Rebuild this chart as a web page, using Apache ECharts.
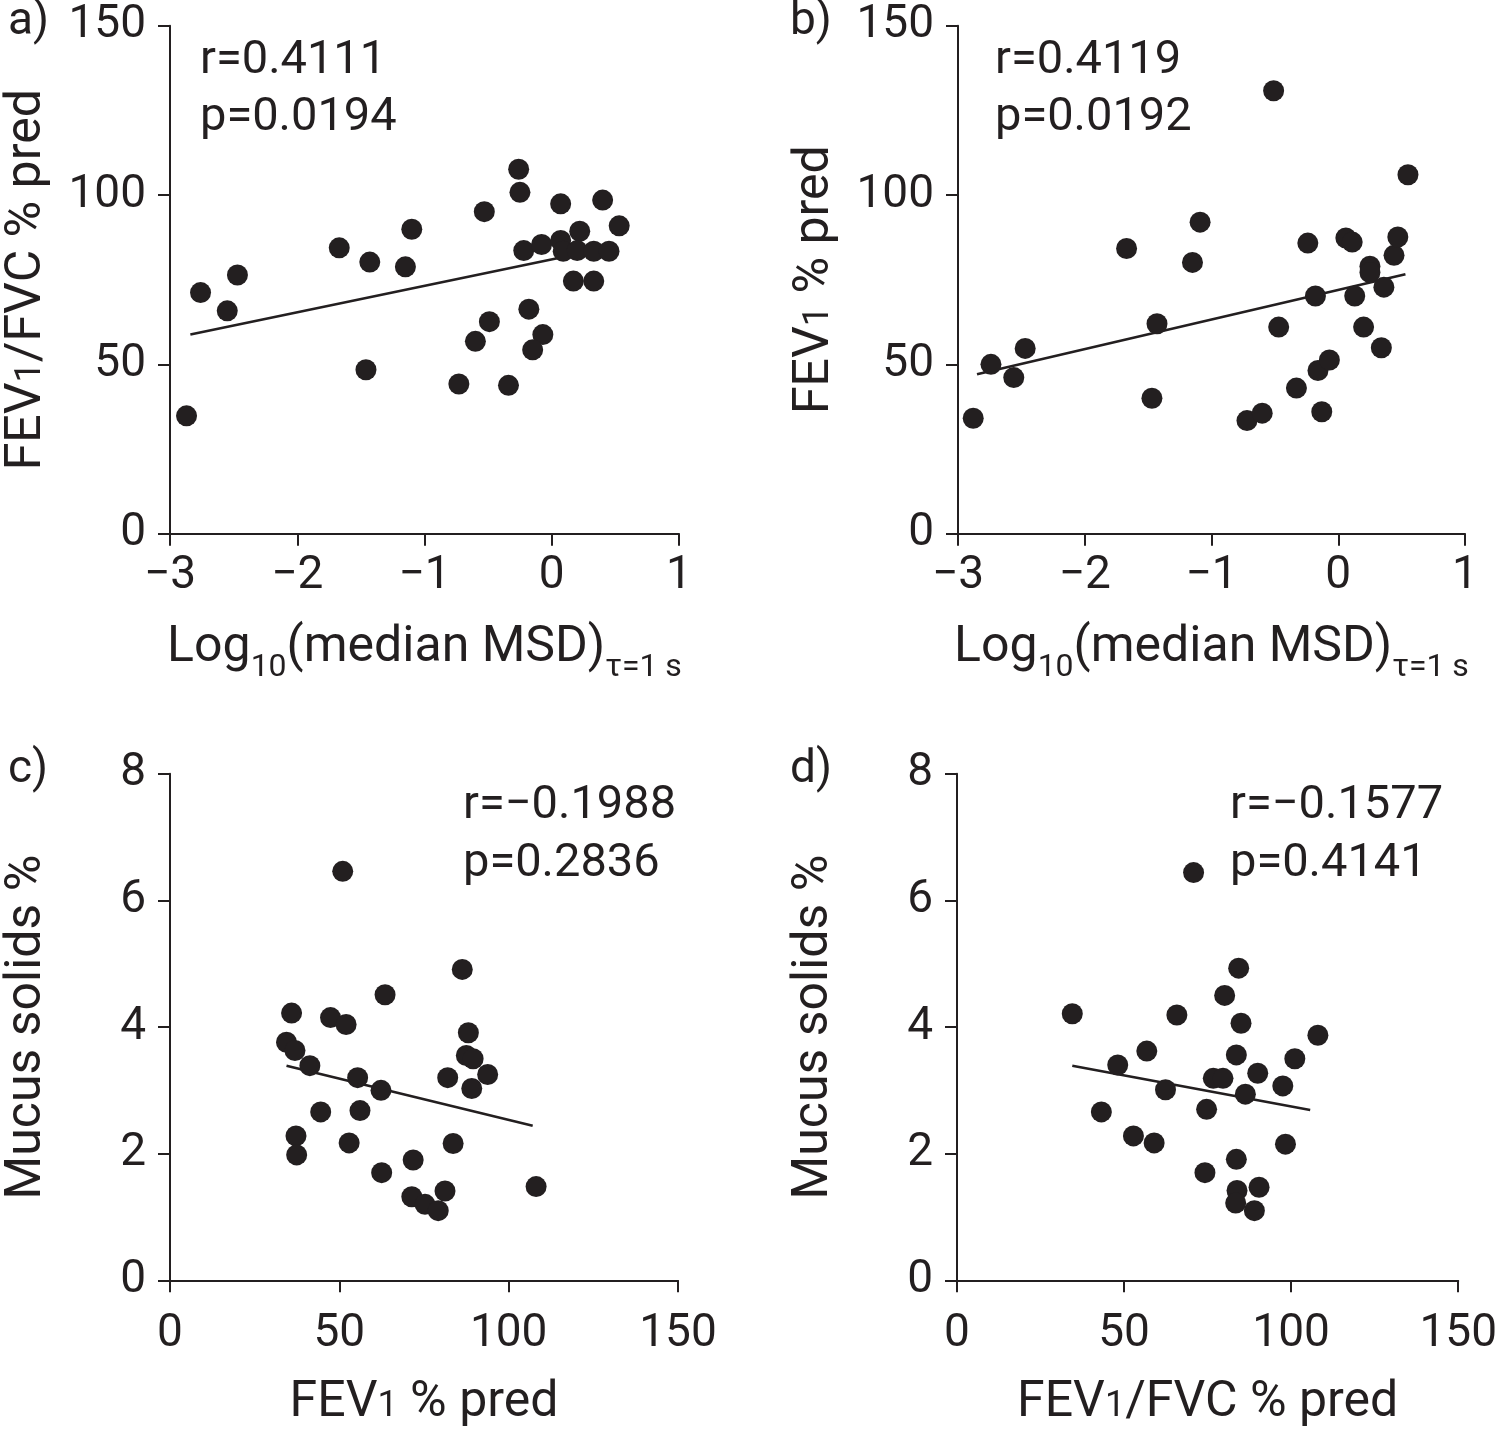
<!DOCTYPE html>
<html>
<head>
<meta charset="utf-8">
<script src="https://cdn.jsdelivr.net/npm/echarts@6/dist/echarts.min.js"></script>
<style>
html,body{margin:0;padding:0;background:#fff;}
#chart{width:1500px;height:1431px;}
</style>
</head>
<body>
<div id="chart"></div>
<script>
// ---- data ----
const panelA_points = [[-2.87,34.8],[-2.76,71.2],[-2.55,65.8],[-2.47,76.4],[-1.67,84.4],[-1.43,80.2],[-1.46,48.4],[-1.15,78.8],[-1.10,89.9],[-0.73,44.2],[-0.53,95.1],[-0.49,62.6],[-0.60,56.8],[-0.34,43.8],[-0.26,107.6],[-0.25,100.8],[-0.22,83.6],[-0.18,66.3],[-0.07,58.8],[-0.15,54.3],[-0.08,85.4],[0.07,97.4],[0.07,86.6],[0.09,83.4],[0.22,89.3],[0.20,83.6],[0.17,74.6],[0.33,83.4],[0.33,74.6],[0.40,98.5],[0.45,83.4],[0.53,90.9]];
const panelA_fit = [[-2.84,58.8],[0.45,84.5]];
const panelB_points = [[-2.88,34.1],[-2.74,50.0],[-2.56,46.1],[-2.47,54.7],[-1.67,84.2],[-1.43,62.0],[-1.47,40.0],[-1.15,80.1],[-1.09,92.0],[-0.72,33.4],[-0.60,35.6],[-0.51,130.8],[-0.47,61.0],[-0.33,43.0],[-0.24,85.8],[-0.18,70.2],[-0.16,48.2],[-0.07,51.3],[-0.13,36.0],[0.06,87.3],[0.11,86.1],[0.13,70.2],[0.20,61.0],[0.25,79.0],[0.25,77.1],[0.36,72.8],[0.34,54.9],[0.44,82.2],[0.47,87.6],[0.55,106.0]];
const panelB_fit = [[-2.85,47.1],[0.53,76.6]];
const panelC_points = [[51.0,6.46],[86.3,4.91],[63.5,4.51],[35.9,4.22],[47.4,4.15],[52.0,4.04],[88.1,3.91],[34.4,3.76],[36.9,3.63],[87.5,3.55],[89.5,3.50],[41.3,3.39],[82.0,3.20],[93.8,3.25],[89.1,3.03],[55.4,3.20],[62.3,3.00],[44.5,2.66],[56.1,2.68],[37.2,2.28],[37.4,1.98],[52.9,2.17],[83.6,2.16],[71.8,1.90],[62.5,1.70],[81.2,1.41],[71.4,1.32],[75.3,1.20],[79.2,1.10],[108.1,1.48]];
const panelC_fit = [[34.4,3.39],[107.1,2.44]];
const panelD_points = [[70.8,6.44],[84.3,4.93],[80.1,4.50],[34.5,4.21],[65.8,4.19],[85.0,4.06],[108.0,3.87],[56.8,3.62],[83.6,3.56],[101.1,3.50],[48.1,3.40],[90.0,3.27],[76.7,3.19],[79.6,3.19],[62.4,3.01],[86.3,2.94],[97.5,3.07],[43.2,2.66],[74.7,2.70],[52.8,2.28],[59.0,2.17],[98.3,2.15],[83.6,1.91],[74.2,1.70],[83.8,1.42],[90.4,1.47],[83.4,1.22],[89.0,1.10]];
const panelD_fit = [[34.5,3.39],[105.7,2.69]];

const panelLabels = ['a)','b)','c)','d)'];
const statsText = [['r=0.4111','p=0.0194'],['r=0.4119','p=0.0192'],['r=\u22120.1988','p=0.2836'],['r=\u22120.1577','p=0.4141']];

// ---- styling ----
const INK = '#231f20';
const FONT = 'Roboto';
const FW = 400;
const FS = 46;   // tick labels
const TS = 50;   // axis titles
const AS = 47;   // annotations

const rich = {
  m: {fontSize: TS, fontFamily: FONT, fontWeight: FW, color: INK, lineHeight: 50, verticalAlign: 'top'},
  s: {fontSize: 32, fontFamily: FONT, fontWeight: FW, color: INK, lineHeight: 32, padding: [28,0,0,0], verticalAlign: 'top'},
  n: {fontSize: 36, fontFamily: FONT, fontWeight: FW, color: INK, lineHeight: 36, padding: [11,0,0,0], verticalAlign: 'top'}
};

const grids = [
  {left: 170, top: 25.7, width: 509, height: 508},
  {left: 958, top: 25.7, width: 507, height: 508},
  {left: 170, top: 773.8, width: 508, height: 506.5},
  {left: 957, top: 773.8, width: 508, height: 506.5}
];

const minusFmt = v => String(v).replace('-', '\u2212');

function xAxisCfg(i, min, max, interval, name, nameGap, labelMargin) {
  return {
    gridIndex: i, type: 'value', min, max, interval,
    name, nameLocation: 'middle', nameGap,
    nameTextStyle: {rich},
    axisLine: {onZero: false, lineStyle: {color: INK, width: 2}},
    axisTick: {length: 12, lineStyle: {color: INK, width: 2}},
    splitLine: {show: false},
    axisLabel: {color: INK, fontSize: FS, fontFamily: FONT, fontWeight: FW, margin: labelMargin, formatter: minusFmt}
  };
}
function yAxisCfg(i, min, max, interval, name, nameGap) {
  return {
    gridIndex: i, type: 'value', min, max, interval,
    name, nameLocation: 'middle', nameGap, nameRotate: 90,
    nameTextStyle: {rich},
    axisLine: {onZero: false, lineStyle: {color: INK, width: 2}},
    axisTick: {length: 12, lineStyle: {color: INK, width: 2}},
    splitLine: {show: false},
    axisLabel: {color: INK, fontSize: FS, fontFamily: FONT, fontWeight: FW, margin: 24, formatter: minusFmt}
  };
}

const msdName = '{m|Log}{s|10}{m|(median MSD)}{s|\u03c4=1 s}';
const xAxes = [
  xAxisCfg(0, -3, 1, 1, msdName, 90, 20),
  xAxisCfg(1, -3, 1, 1, msdName, 90, 20),
  xAxisCfg(2, 0, 150, 50, '{m|FEV}{n|1}{m| % pred}', 98, 31),
  xAxisCfg(3, 0, 150, 50, '{m|FEV}{n|1}{m|/FVC % pred}', 98, 31)
];
const yAxes = [
  yAxisCfg(0, 0, 150, 50, '{m|FEV}{n|1}{m|/FVC % pred}', 118),
  yAxisCfg(1, 0, 150, 50, '{m|FEV}{n|1}{m| % pred}', 118),
  yAxisCfg(2, 0, 8, 2, '{m|Mucus solids %}', 118),
  yAxisCfg(3, 0, 8, 2, '{m|Mucus solids %}', 118)
];

const allPoints = [panelA_points, panelB_points, panelC_points, panelD_points];
const allFits = [panelA_fit, panelB_fit, panelC_fit, panelD_fit];
const series = [];
allPoints.forEach((pts, i) => {
  series.push({type: 'line', xAxisIndex: i, yAxisIndex: i, data: allFits[i], symbol: 'none', z: 2,
    lineStyle: {color: INK, width: 2.6}, silent: true, animation: false});
  series.push({type: 'scatter', xAxisIndex: i, yAxisIndex: i, data: pts, symbolSize: 21, z: 3,
    itemStyle: {color: INK, opacity: 1}, animation: false});
});

const letterPos = [[8,22],[790,22],[8,770],[790,770]];
const statPos = [[200,61,118],[995,61,118],[463,806,864],[1230,806,864]];
const graphic = [];
panelLabels.forEach((t, i) => {
  graphic.push({type: 'text', x: letterPos[i][0], y: letterPos[i][1],
    style: {text: t, font: FW + ' 46px ' + FONT, fill: INK, align: 'left', verticalAlign: 'middle', textAlign: 'left', textVerticalAlign: 'middle'}});
});
statsText.forEach((pair, i) => {
  graphic.push({type: 'text', x: statPos[i][0], y: statPos[i][1],
    style: {text: pair[0], font: FW + ' ' + AS + 'px ' + FONT, fill: INK, align: 'left', verticalAlign: 'middle', textAlign: 'left', textVerticalAlign: 'middle'}});
  graphic.push({type: 'text', x: statPos[i][0], y: statPos[i][2],
    style: {text: pair[1], font: FW + ' ' + AS + 'px ' + FONT, fill: INK, align: 'left', verticalAlign: 'middle', textAlign: 'left', textVerticalAlign: 'middle'}});
});

const chart = echarts.init(document.getElementById('chart'), null, {renderer: 'canvas'});
chart.setOption({
  animation: false,
  backgroundColor: '#ffffff',
  grid: grids,
  xAxis: xAxes,
  yAxis: yAxes,
  series,
  graphic
});
</script>
</body>
</html>
